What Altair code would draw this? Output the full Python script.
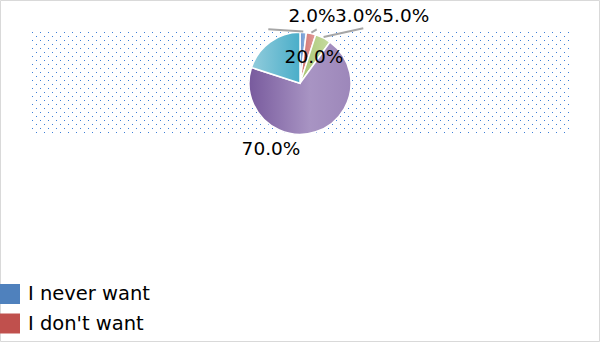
import altair as alt
import pandas as pd

# ---- data ----
categories = ["I never want", "I don't want", "I'm not sure", "I want", "I really want"]
values = [2, 3, 5, 70, 20]
labels = ["2.0%", "3.0%", "5.0%", "70.0%", "20.0%"]
visible_legend = categories[:2]  # only these two entries fit in the reference's frame

# ---- layout / style (kept separate from data) ----
CX, CY, R = 300, 83.3, 51
label_dx = [12, 58.5, 105.8, -29, 14]
label_dy = [-67.5, -67.3, -67.3, 65.7, -26.6]
leader_dx = [-31.7, 16.7, 63.3, None, None]
leader_dy = [-54, -54, -55, None, None]
base_colors = ["#4F81BD", "#C0504D", "#9BBB59", "#8064A2", "#4BACC6"]
grad_stops = [
    [("#6b96d0", 0), ("#95b5e0", 1)],
    [("#cf6e6b", 0), ("#e29c99", 1)],
    [("#a9c672", 0), ("#c6dba1", 1)],
    [("#785a9d", 0), ("#a894c3", 0.6), ("#9d87ba", 1)],
    [("#92ccdc", 0), ("#4aaec9", 1)],
]

df = pd.DataFrame({
    "cat": categories, "value": values, "label": labels,
    "order": list(range(len(values))),
    "ldx": label_dx, "ldy": label_dy,
    "kdx": leader_dx, "kdy": leader_dy,
})

base = alt.Chart(df).transform_window(
    end="sum(value)", sort=[alt.SortField("order")], frame=[None, 0]
).transform_calculate(
    start="datum.end - datum.value",
    mid="datum.end - datum.value / 2",
)

theta = alt.Theta("start:Q", scale=alt.Scale(domain=[0, 100]))
center = dict(x=alt.value(CX), y=alt.value(CY))

# dotted plot-area pattern (1px dots on a staggered 8px grid)
dot_col = "#3d7fd8"
dots1 = alt.Chart(alt.sequence(32.5, 569, 8, as_="px")).mark_rule(
    color=dot_col, strokeWidth=1, strokeDash=[1, 7]
).encode(x=alt.X("px:Q", scale=None, axis=None), y=alt.value(32), y2=alt.value(133))
dots2 = alt.Chart(alt.sequence(36.5, 565, 8, as_="px")).mark_rule(
    color=dot_col, strokeWidth=1, strokeDash=[1, 7]
).encode(x=alt.X("px:Q", scale=None, axis=None), y=alt.value(36), y2=alt.value(134))

border = alt.Chart(pd.DataFrame({"a": [0]})).mark_rect(
    fillOpacity=0, stroke="#d9d9d9", strokeWidth=1
).encode(x=alt.value(0.5), x2=alt.value(599.5), y=alt.value(0.5), y2=alt.value(341.5))

pie_base = base.mark_arc(radius=R, stroke="white", strokeWidth=1.5).encode(
    theta=theta, theta2="end:Q",
    color=alt.Color(
        "cat:N",
        scale=alt.Scale(domain=categories, range=base_colors),
        sort=categories,
        legend=alt.Legend(
            orient="none", legendX=0, legendY=284, title=None,
            values=visible_legend,
            symbolType="square", symbolSize=400, symbolStrokeWidth=0,
            labelFont="DejaVu Sans", labelFontSize=19.5, labelColor="black",
            labelOffset=8, rowPadding=9.5, padding=0, labelLimit=0,
        ),
    ),
    **center,
)

grad_layers = []
for cat, stops in zip(categories, grad_stops):
    g = alt.Gradient(
        gradient="linear", x1=0, y1=0, x2=1, y2=0,
        stops=[alt.GradientStop(color=c, offset=o) for c, o in stops],
    )
    grad_layers.append(
        base.transform_filter(alt.datum.cat == cat).mark_arc(
            radius=R, fill=g, stroke="white", strokeWidth=1.5
        ).encode(theta=theta, theta2="end:Q", **center)
    )

leaders = base.transform_filter("isValid(datum.kdx)").transform_calculate(
    lx=f"{CX} + {R + 1} * sin(datum.mid / 100 * 2 * PI)",
    ly=f"{CY} - {R + 1} * cos(datum.mid / 100 * 2 * PI)",
    lx2=f"{CX} + datum.kdx",
    ly2=f"{CY} + datum.kdy",
).mark_rule(color="#a6a6a6", strokeWidth=2).encode(
    x=alt.X("lx:Q", scale=None, axis=None), y=alt.Y("ly:Q", scale=None, axis=None),
    x2="lx2:Q", y2="ly2:Q",
)

texts = base.transform_calculate(
    tx=f"{CX} + datum.ldx", ty=f"{CY} + datum.ldy"
).mark_text(
    font="DejaVu Sans", fontSize=18.5, color="black", align="center", baseline="middle"
).encode(
    x=alt.X("tx:Q", scale=None, axis=None), y=alt.Y("ty:Q", scale=None, axis=None),
    text="label:N",
)

chart = alt.layer(
    dots1, dots2, border, pie_base, *grad_layers, leaders, texts
).properties(
    width=600, height=342, padding=0, autosize=alt.AutoSizeParams(type="none"),
    background="white",
).configure_view(stroke=None)

chart.save("out.html", embed_options={"renderer": "svg", "actions": False})
